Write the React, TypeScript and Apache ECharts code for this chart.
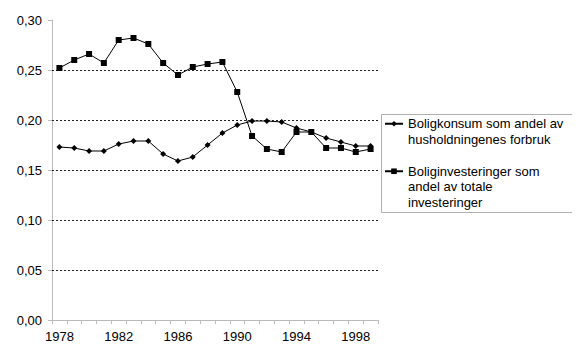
import React, { useEffect, useRef } from "react";
import * as echarts from "echarts";

const years = [
  "1978", "1979", "1980", "1981", "1982", "1983", "1984", "1985", "1986", "1987", "1988",
  "1989", "1990", "1991", "1992", "1993", "1994", "1995", "1996", "1997", "1998", "1999",
];
const boligkonsum = [
  0.173, 0.172, 0.169, 0.169, 0.176, 0.179, 0.179, 0.166, 0.159, 0.163, 0.175,
  0.187, 0.195, 0.199, 0.199, 0.198, 0.192, 0.188, 0.182, 0.178, 0.174, 0.174,
];
const boliginvesteringer = [
  0.252, 0.26, 0.266, 0.257, 0.28, 0.282, 0.276, 0.257, 0.245, 0.253, 0.256,
  0.258, 0.228, 0.184, 0.171, 0.168, 0.188, 0.188, 0.172, 0.172, 0.168, 0.171,
];
const seriesNames = [
  "Boligkonsum som andel av\nhusholdningenes forbruk",
  "Boliginvesteringer som\nandel av totale\ninvesteringer",
];
const gridValues = [0.05, 0.1, 0.15, 0.2, 0.25];

const FONT = "'Liberation Sans', Arial, Helvetica, sans-serif";
const LH = 15.5;

export default function App() {
  const ref = useRef<HTMLDivElement>(null);
  useEffect(() => {
    if (!ref.current) return;
    const chart = echarts.init(ref.current, undefined, { renderer: "svg" });
    chart.setOption({
      animation: false,
      backgroundColor: "#ffffff",
      textStyle: { fontFamily: FONT },
      grid: { left: 52, right: 202, top: 20, bottom: 40, containLabel: false },
      graphic: [
        {
          type: "rect",
          shape: { x: 381.5, y: 114.5, width: 191, height: 98 },
          style: { fill: "none", stroke: "#b0b0b0", lineWidth: 1 },
          silent: true,
          z: 0,
        },
      ],
      legend: {
        orient: "vertical",
        left: 384,
        top: 100.5,
        itemWidth: 18,
        itemHeight: 7,
        itemGap: -14.5,
        padding: 0,
        borderWidth: 0,
        selectedMode: false,
        formatter: (name: string) => {
          const n = name.split("\n").length;
          return "\n".repeat(n - 1) + name;
        },
        textStyle: { fontFamily: FONT, fontSize: 13, color: "#000", lineHeight: LH },
        data: seriesNames,
      },
      xAxis: {
        type: "category",
        data: years,
        boundaryGap: true,
        axisLine: { lineStyle: { color: "#bbbbbb", width: 1 } },
        axisTick: { show: true, interval: 0, length: 4, lineStyle: { color: "#bbbbbb" } },
        axisLabel: { interval: 3, fontSize: 13, color: "#000", margin: 10, fontFamily: FONT },
        splitLine: { show: false },
      },
      yAxis: {
        type: "value",
        min: 0,
        max: 0.3,
        interval: 0.05,
        axisLine: { show: true, lineStyle: { color: "#bbbbbb", width: 1 } },
        axisTick: { show: true, length: 4, lineStyle: { color: "#bbbbbb" } },
        axisLabel: {
          fontSize: 13,
          color: "#000",
          margin: 10,
          fontFamily: FONT,
          formatter: (v: number) => v.toFixed(2).replace(".", ","),
        },
        splitLine: { show: false },
      },
      series: [
        {
          name: seriesNames[0],
          type: "line",
          data: boligkonsum,
          symbol: "diamond",
          symbolSize: 6,
          showAllSymbol: true,
          itemStyle: { color: "#000" },
          lineStyle: { color: "#000", width: 1 },
          z: 3,
          markLine: {
            silent: true,
            symbol: ["none", "none"],
            label: { show: false },
            emphasis: { disabled: true },
            lineStyle: { color: "#222", width: 1, type: [2, 2] },
            data: gridValues.map((v) => ({ yAxis: v })),
            z: 1,
          },
        },
        {
          name: seriesNames[1],
          type: "line",
          data: boliginvesteringer,
          symbol: "rect",
          symbolSize: 6,
          showAllSymbol: true,
          itemStyle: { color: "#000" },
          lineStyle: { color: "#000", width: 1 },
          z: 3,
        },
      ],
    });
    return () => chart.dispose();
  }, []);
  return <div ref={ref} style={{ width: 580, height: 360, margin: -8 }} />;
}
